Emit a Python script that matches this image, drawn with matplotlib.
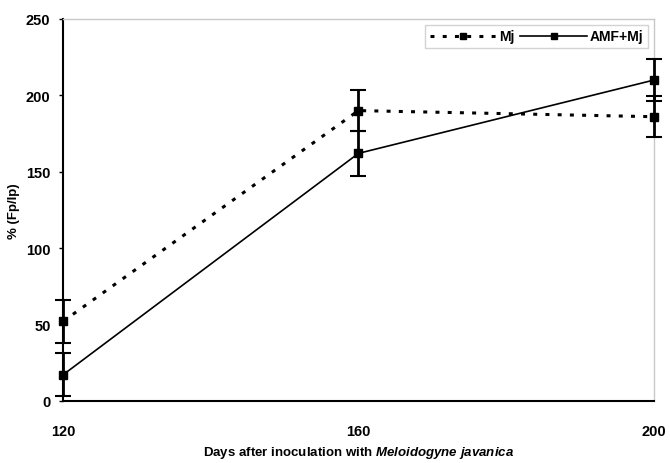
import numpy as np
import matplotlib
matplotlib.use("Agg")
import matplotlib.pyplot as plt
from matplotlib.lines import Line2D

plt.rcParams['font.family'] = ['Liberation Sans', 'DejaVu Sans']
plt.rcParams['font.weight'] = 'bold'
plt.rcParams['mathtext.fontset'] = 'custom'
plt.rcParams['mathtext.it'] = 'Liberation Sans:bold:italic'
plt.rcParams['mathtext.rm'] = 'Liberation Sans:bold'

days = [120, 160, 200]
mj = [52, 190, 186]
mj_err = [14, 13.5, 13.5]
amf_mj = [17, 162, 210]
amf_mj_err = [14, 14.5, 13.5]

dots = (0, (1.3, 2.7))

fig = plt.figure(figsize=(6.7, 4.64), dpi=100)
ax = fig.add_axes([0.094, 0.134, 0.882, 0.823])

for y, e, ls, lw in [(mj, mj_err, dots, 2.2), (amf_mj, amf_mj_err, '-', 1.2)]:
    line, caps, bars = ax.errorbar(days, y, yerr=e, color='black', linestyle=ls,
                                   linewidth=lw, marker='s', markersize=5.5,
                                   capsize=6, capthick=1.5, elinewidth=2, zorder=3)
    line.set_clip_on(False)
    for c in caps:
        c.set_clip_on(False)
    for b in bars:
        b.set_clip_on(False)

ax.set_xlim(120, 200)
ax.set_ylim(0, 250)
ax.set_xticks(days)
ax.set_yticks([0, 50, 100, 150, 200, 250])
ax.tick_params(axis='x', length=0, pad=17, labelsize=10.5)
ax.tick_params(axis='y', length=3, width=1, pad=6, labelsize=10.5)
for s in ['left', 'bottom']:
    ax.spines[s].set_linewidth(1.5)
for s in ['top', 'right']:
    ax.spines[s].set_color('#c8c8c8')
    ax.spines[s].set_linewidth(1)
for lab in ax.get_xticklabels() + ax.get_yticklabels():
    lab.set_fontweight('bold')

ax.set_ylabel('% (Fp/Ip)', fontsize=9.5, fontweight='bold', labelpad=4)
ax.set_xlabel(r'Days after inoculation with $\mathit{Meloidogyne\ javanica}$',
              fontsize=9.5, fontweight='bold', labelpad=4)

handles = [Line2D([], [], color='black', linestyle=dots, linewidth=2.2,
                  marker='s', markersize=5),
           Line2D([], [], color='black', linestyle='-', linewidth=1.2,
                  marker='s', markersize=5)]
leg = ax.legend(handles, ['Mj', 'AMF+Mj'], loc='upper right', ncol=2,
                fontsize=10, frameon=True, fancybox=False, edgecolor='#c8c8c8',
                handlelength=4.8, columnspacing=0.4, handletextpad=0.2,
                borderpad=0.35, borderaxespad=0.4)
leg.get_frame().set_linewidth(1)

fig.savefig('out.png', dpi=100)
